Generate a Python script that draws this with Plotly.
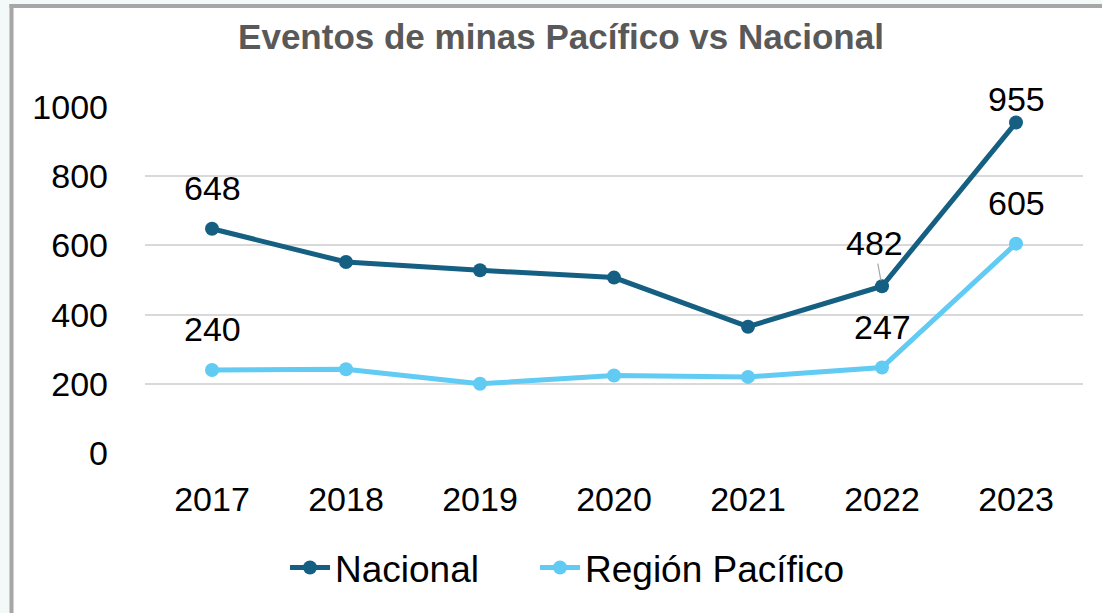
import plotly.graph_objects as go

years = ["2017", "2018", "2019", "2020", "2021", "2022", "2023"]
nacional = [648, 552, 528, 507, 365, 482, 955]
pacifico = [240, 242, 200, 224, 220, 247, 605]
# which points carry a data label
nacional_labeled = [True, False, False, False, False, True, True]
pacifico_labeled = [True, False, False, False, False, True, True]
y_ticks = [0, 200, 400, 600, 800, 1000]

C_NAC = "#156082"
C_PAC = "#61CBF3"
NUM_FONT = "Liberation Sans, Arial, sans-serif"

fig = go.Figure()
fig.add_trace(go.Scatter(
    x=years, y=nacional, name="Nacional", mode="lines+markers",
    line=dict(color=C_NAC, width=5), marker=dict(color=C_NAC, size=14),
    legend="legend",
))
fig.add_trace(go.Scatter(
    x=years, y=pacifico, name="Región Pacífico", mode="lines+markers",
    line=dict(color=C_PAC, width=5), marker=dict(color=C_PAC, size=14),
    legend="legend2",
))

label_font = dict(family=NUM_FONT, size=34, color="black")
annotations = []
for i, (yr, v, lab) in enumerate(zip(years, nacional, nacional_labeled)):
    if not lab:
        continue
    if yr == "2022":
        annotations.append(dict(x=i, y=v, xref="x", yref="y", text=str(v), showarrow=True,
                                ax=-8, ay=-43, arrowhead=0, arrowwidth=1.2,
                                arrowcolor="#A6A6A6", standoff=6, font=label_font))
    else:
        shift = 24 if yr == "2023" else 41
        annotations.append(dict(x=i, y=v, xref="x", yref="y", text=str(v), showarrow=False,
                                yshift=shift, font=label_font))
for i, (yr, v, lab) in enumerate(zip(years, pacifico, pacifico_labeled)):
    if not lab:
        continue
    annotations.append(dict(x=i, y=v, xref="x", yref="y", text=str(v), showarrow=False,
                            yshift=41, font=label_font))

L, R, T, B = 145, 19, 107, 160
W, H = 1102, 613
pw, ph = W - L - R, H - T - B
def px_x(p):
    return (p - L) / pw
def px_y(p):
    return (H - B - p) / ph

shapes = [
    dict(type="rect", xref="paper", yref="paper", x0=px_x(0), x1=px_x(10),
         y0=px_y(613), y1=px_y(0), fillcolor="#F3F8F8", line=dict(width=0), layer="below"),
    dict(type="rect", xref="paper", yref="paper", x0=px_x(0), x1=px_x(1102),
         y0=px_y(4), y1=px_y(0), fillcolor="#F3F8F8", line=dict(width=0), layer="below"),
    dict(type="rect", xref="paper", yref="paper", x0=px_x(9.5), x1=px_x(13.5),
         y0=px_y(613), y1=px_y(4), fillcolor="#A6A6A6", line=dict(width=0)),
    dict(type="rect", xref="paper", yref="paper", x0=px_x(9.5), x1=px_x(1102),
         y0=px_y(8), y1=px_y(4), fillcolor="#A6A6A6", line=dict(width=0)),
]

legend_common = dict(orientation="h", xanchor="left", y=px_y(568), yanchor="middle",
                     font=dict(family=NUM_FONT, size=37, color="black"),
                     itemwidth=40, bgcolor="rgba(0,0,0,0)")

fig.update_layout(
    width=W, height=H,
    margin=dict(l=L, r=R, t=T, b=B, pad=0),
    paper_bgcolor="white", plot_bgcolor="white",
    title=dict(text="<b>Eventos de minas Pacífico vs Nacional</b>",
               x=px_x(561), xanchor="center", xref="paper",
               y=1 - 37 / H, yanchor="middle",
               font=dict(family=NUM_FONT, size=35, color="#595959")),
    xaxis=dict(type="category", range=[-0.5, 6.5], showgrid=False, zeroline=False,
               showline=False, ticks="", ticklabelstandoff=23,
               tickfont=dict(family=NUM_FONT, size=34, color="black")),
    yaxis=dict(range=[0, 1000], tickvals=y_ticks, showgrid=True, gridcolor="#D9D9D9",
               gridwidth=1.5, zeroline=False, showline=False, ticks="",
               ticklabelstandoff=36,
               tickfont=dict(family=NUM_FONT, size=34, color="black")),
    legend=dict(x=px_x(285), **legend_common),
    legend2=dict(x=px_x(535), **legend_common),
    annotations=annotations,
    shapes=shapes,
    showlegend=True,
)

fig.write_html("out.html", config={"displayModeBar": False},
               post_script="document.body.style.margin='0';document.body.style.padding='0';")
